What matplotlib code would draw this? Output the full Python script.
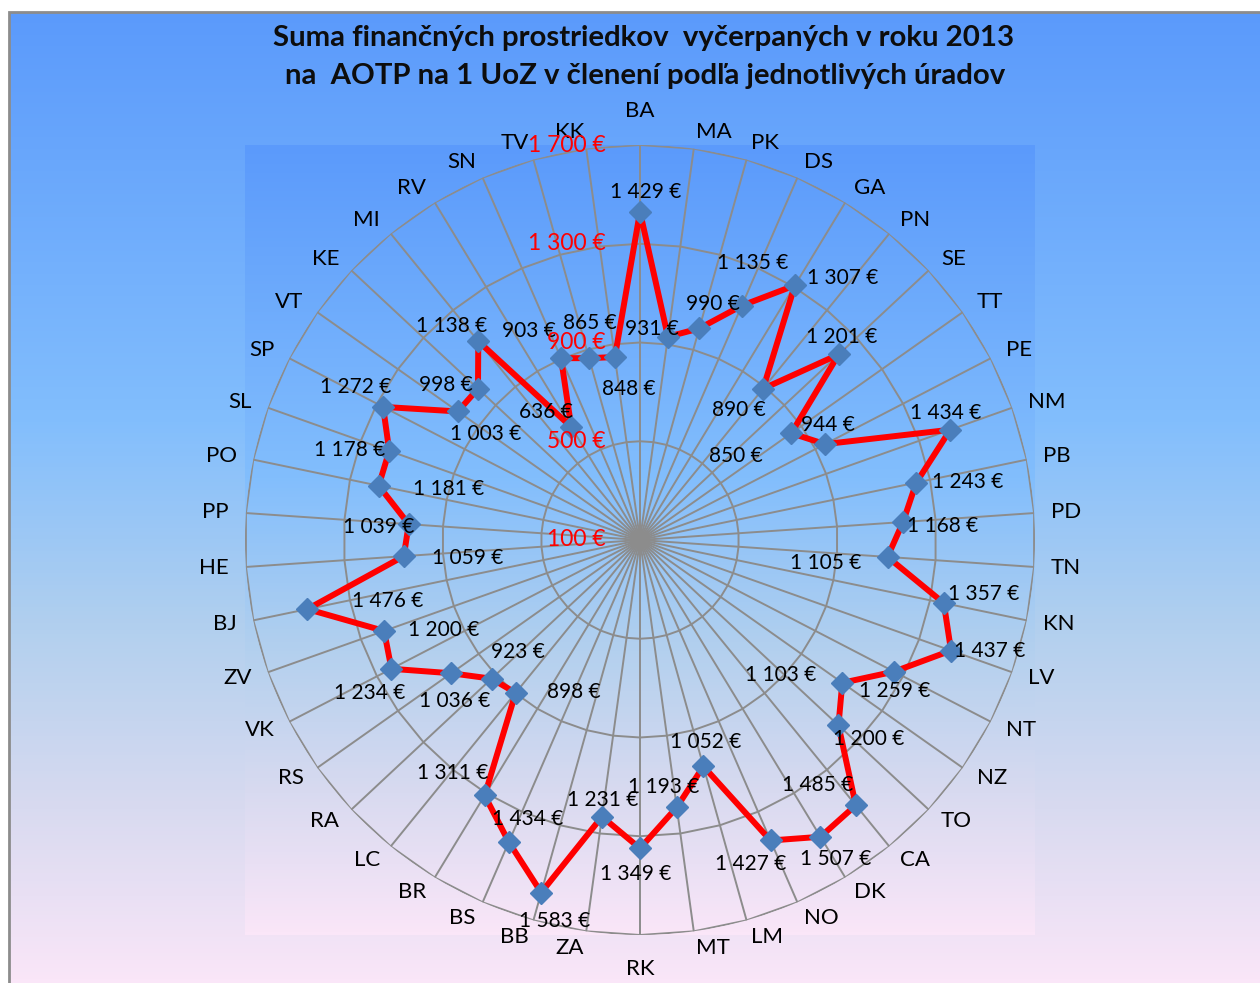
import numpy as np
import matplotlib
matplotlib.use("Agg")
import matplotlib.pyplot as plt
from matplotlib.colors import LinearSegmentedColormap
from matplotlib.patches import Rectangle

plt.rcParams['font.family'] = ['Lato', 'DejaVu Sans']

# úrady v poradí v smere hodinových ručičiek od BA
urady = ["BA", "MA", "PK", "DS", "GA", "PN", "SE", "TT", "PE", "NM", "PB", "PD",
         "TN", "KN", "LV", "NT", "NZ", "TO", "CA", "DK", "NO", "LM", "MT", "RK",
         "ZA", "BB", "BS", "BR", "LC", "RA", "RS", "VK", "ZV", "BJ", "HE", "PP",
         "PO", "SL", "SP", "VT", "KE", "MI", "RV", "SN", "TV", "KK"]
suma = [1429, 931, 990, 1135, 1307, 890, 1201, 850, 944, 1434, 1243, 1168,
        1105, 1357, 1437, 1259, 1103, 1200, 1485, 1507, 1427, 1052, 1193, 1349,
        1231, 1583, 1434, 1311, 898, 923, 1036, 1234, 1200, 1476, 1059, 1039,
        1181, 1178, 1272, 1003, 998, 1138, 636, 903, 865, 848]
# posun popiskov hodnot (px, x doprava, y dole)
posun = [(6, -20), (-16, -8), (14, -24), (11, -43), (48, -7), (-24, 21), (3, -17),
         (-55, 23), (3, -19), (-5, -17), (51, -1), (40, 4), (-62, 6), (40, -9),
         (39, 0), (1, 19), (-62, -8), (30, 14), (-38, -20), (15, 22), (-20, 24),
         (2, -24), (-13, -20), (-4, 26), (1, -17), (13, 28), (19, -23), (-32, -22),
         (58, -1), (26, -27), (3, 28), (-22, 24), (60, -1), (80, -8), (64, 2),
         (-30, 3), (70, 3), (-40, -1), (-27, -20), (28, 23), (-32, -4), (-27, -15),
         (-25, -15), (-32, -27), (1, -35), (14, 32)]
stupnica = [100, 500, 900, 1300, 1700]

W, H = 1260, 983
fig = plt.figure(figsize=(W / 100, H / 100), dpi=100)
fig.patch.set_facecolor('white')

farby = [(0.0, '#5b9afb'), (0.42, '#82befd'), (0.64, '#b3d0ee'),
         (0.82, '#d8daf0'), (1.0, '#fae6f8')]
cmap = LinearSegmentedColormap.from_list('pozadie', farby)
grad = np.linspace(0, 1, 256).reshape(-1, 1)

# pozadie grafu
ax_bg = fig.add_axes([8.5 / W, 0, 1 - 8.5 / W, (H - 12) / H])
ax_bg.imshow(grad, cmap=cmap, aspect='auto', extent=[0, 1, 0, 1])
ax_bg.axis('off')
fig.add_artist(Rectangle((8.5 / W, -0.1), 2, (H - 12) / H + 0.1, transform=fig.transFigure,
                         fill=False, edgecolor='#8c8c8c', lw=2, zorder=5))

rect = [245 / W, 48 / H, 790 / W, 790 / H]
ax_pa = fig.add_axes(rect)
ax_pa.imshow(grad, cmap=cmap, aspect='auto', extent=[0, 1, 0, 1])
ax_pa.axis('off')

ax = fig.add_axes(rect, projection='polar')
ax.patch.set_alpha(0)
ax.set_theta_zero_location('N')
ax.set_theta_direction(-1)
ax.set_ylim(100, 1700)
ax.grid(False)
ax.set_xticks([])
ax.set_yticks([])
ax.spines['polar'].set_visible(False)

n = len(urady)
uhly = np.linspace(0, 2 * np.pi, n, endpoint=False)
uhly_z = np.append(uhly, uhly[0])

siet = '#8c8c8c'
for r in stupnica[1:]:
    ax.plot(uhly_z, [r] * (n + 1), color=siet, lw=1.4, zorder=1)
for a in uhly:
    ax.plot([a, a], [100, 1700], color=siet, lw=1.4, zorder=1)

hodnoty_z = np.append(suma, suma[0])
ax.plot(uhly_z, hodnoty_z, color='#ff0000', lw=4.3, zorder=3, solid_joinstyle='miter')
ax.plot(uhly, suma, linestyle='none', marker='D', ms=11, color='#4a7ebb', zorder=4)

for a, v, (dx, dy) in zip(uhly, suma, posun):
    ax.annotate(f"{v:,} €".replace(',', ' '), xy=(a, v), xytext=(dx, -dy),
                textcoords='offset pixels', ha='center', va='center',
                fontsize=15, color='black', annotation_clip=False, zorder=6)

# popisky kategórií: kotva kúsok za vonkajším prstencom
r_kat = 100 + 1600 * 412 / 395
r_kat_hd = 100 + 1600 * 419 / 395
for a, u in zip(uhly, urady):
    s, c = np.sin(a), np.cos(a)
    ha = 'center' if abs(s) < 0.05 else ('left' if s > 0 else 'right')
    if abs(s) < 0.05:
        va = 'bottom' if c > 0 else 'top'
        ax.text(a, r_kat_hd, u, ha=ha, va=va, fontsize=16, color='black', clip_on=False)
    else:
        ax.text(a, r_kat, u, ha=ha, va='center', fontsize=16, color='black', clip_on=False)

for r in stupnica:
    ax.annotate(f"{r:,} €".replace(',', ' '), xy=(0, r), xytext=(-34, 0),
                textcoords='offset pixels', ha='right', va='center',
                fontsize=16.5, color='#ff0000', annotation_clip=False, zorder=6)

fig.text(644 / W, 1 - 38 / H, "Suma finančných prostriedkov  vyčerpaných v roku 2013",
         ha='center', va='center', fontsize=21.2, fontweight='bold', color='#0d0d0d')
fig.text(645 / W, 1 - 76 / H, "na  AOTP na 1 UoZ v členení podľa jednotlivých úradov",
         ha='center', va='center', fontsize=21.2, fontweight='bold', color='#0d0d0d')

fig.savefig('out.png', dpi=100)
